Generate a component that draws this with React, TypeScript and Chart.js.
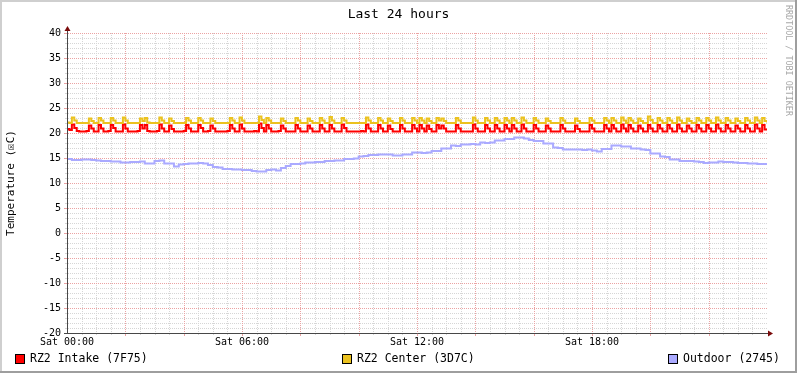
import { useEffect, useRef } from 'react';
import { Chart, registerables } from 'chart.js';

Chart.register(...registerables);

const TITLE = 'Last 24 hours';
const Y_AXIS_TITLE = 'Temperature (☒C)';
const WATERMARK = 'RRDTOOL / TOBI OETIKER';
const X_TICK_HOURS = [0, 6, 12, 18];
const X_TICK_LABELS = ['Sat 00:00', 'Sat 06:00', 'Sat 12:00', 'Sat 18:00'];
const Y_MIN = -20;
const Y_MAX = 40;
const Y_LABEL_STEP = 5;
const Y_MINOR_STEP = 1;
const X_MAJOR_STEP = 2;
const X_MINOR_STEP = 0.5;
const X_SPAN_HOURS = 24;
const SERIES_NAMES = ['RZ2 Intake (7F75)', 'RZ2 Center (3D7C)', 'Outdoor (2745)'];
const SERIES_COLORS = ['#FF0000', '#EBC21F', '#AAAAFF'];
const FAST_STEP_HOURS = 5 / 60;
const SLOW_STEP_HOURS = 10 / 60;

// RZ2 Intake, one value per 5 minutes (12 per row = 1 hour)
const intake = [
  20.8, 20.6, 21.7, 21.0, 20.4, 20.3, 20.3, 20.3, 20.4, 21.5, 20.9, 20.3,
  20.3, 21.6, 20.9, 20.3, 20.3, 20.4, 21.6, 21.0, 20.3, 20.3, 20.3, 21.7,
  20.9, 20.3, 20.3, 20.3, 20.3, 20.4, 21.6, 20.9, 21.6, 20.4, 20.3, 20.3,
  20.3, 20.4, 21.7, 20.9, 20.3, 20.3, 21.5, 20.8, 20.3, 20.3, 20.3, 20.3,
  20.4, 21.6, 20.9, 20.3, 20.3, 20.3, 21.6, 21.0, 20.3, 20.3, 20.4, 21.5,
  20.9, 20.3, 20.3, 20.3, 20.3, 20.3, 20.4, 21.6, 20.9, 20.3, 20.3, 21.7,
  20.9, 20.3, 20.3, 20.3, 20.3, 20.4, 20.3, 21.9, 21.0, 20.3, 21.6, 20.9,
  20.3, 20.3, 20.3, 20.4, 21.5, 20.9, 20.3, 20.3, 20.3, 20.3, 21.6, 20.9,
  20.3, 20.3, 20.3, 21.5, 20.9, 20.3, 20.3, 20.3, 21.6, 20.9, 20.3, 20.3,
  21.6, 20.9, 20.3, 20.3, 20.3, 21.7, 21.0, 20.3, 20.3, 20.3, 20.3, 20.3,
  20.3, 20.4, 20.3, 21.7, 20.9, 20.3, 20.3, 20.3, 21.6, 20.9, 20.3, 20.3,
  21.5, 20.8, 20.3, 20.3, 20.3, 21.6, 20.9, 20.3, 20.3, 20.3, 21.6, 20.9,
  20.3, 21.6, 20.9, 20.3, 21.5, 20.8, 20.3, 20.3, 21.6, 20.9, 21.5, 20.9,
  20.3, 20.3, 20.3, 20.3, 21.6, 20.9, 20.3, 20.3, 20.3, 20.3, 20.3, 21.7,
  20.9, 20.3, 20.3, 20.3, 21.6, 20.9, 20.3, 20.3, 21.6, 20.9, 20.3, 20.3,
  21.6, 20.9, 20.3, 21.6, 20.9, 20.3, 20.3, 21.7, 20.9, 20.3, 20.3, 20.3,
  21.6, 20.9, 20.3, 20.3, 20.3, 21.5, 20.9, 20.3, 20.3, 20.3, 20.3, 21.6,
  20.9, 20.3, 20.3, 20.3, 20.3, 21.5, 20.8, 20.3, 20.3, 20.3, 20.3, 21.6,
  20.9, 20.3, 20.3, 20.3, 20.3, 21.6, 20.9, 20.3, 21.6, 20.9, 20.3, 20.3,
  21.7, 20.9, 20.3, 21.6, 20.9, 20.3, 20.3, 21.5, 20.9, 20.3, 20.3, 21.6,
  20.9, 20.3, 20.3, 21.6, 20.9, 20.3, 20.3, 21.6, 20.9, 20.3, 20.3, 21.7,
  20.9, 20.3, 20.3, 21.5, 20.9, 20.3, 20.3, 21.6, 20.9, 20.3, 20.3, 21.6,
  20.9, 20.3, 20.3, 21.7, 20.9, 20.3, 20.3, 21.6, 20.9, 20.3, 20.3, 21.5,
  20.9, 20.3, 20.3, 21.6, 20.9, 20.3, 20.3, 21.7, 20.9, 20.3, 21.6, 20.7,
  20.6,
];

// RZ2 Center, one value per 5 minutes
const center = [
  22.1, 22.0, 23.1, 22.5, 22.0, 22.0, 22.0, 22.0, 22.0, 22.9, 22.4, 22.0,
  22.0, 23.0, 22.5, 22.0, 22.0, 22.0, 23.0, 22.5, 22.0, 22.0, 22.0, 23.1,
  22.5, 22.0, 22.0, 22.0, 22.0, 22.0, 22.9, 22.4, 23.0, 22.1, 22.0, 22.0,
  22.0, 22.0, 23.1, 22.5, 22.0, 22.0, 22.9, 22.4, 22.0, 22.0, 22.0, 22.0,
  22.0, 23.0, 22.5, 22.0, 22.0, 22.0, 23.0, 22.5, 22.0, 22.0, 22.0, 22.9,
  22.4, 22.0, 22.0, 22.0, 22.0, 22.0, 22.0, 23.0, 22.5, 22.0, 22.0, 23.1,
  22.5, 22.0, 22.0, 22.0, 22.0, 22.0, 22.0, 23.3, 22.6, 22.0, 23.0, 22.5,
  22.0, 22.0, 22.0, 22.0, 22.9, 22.4, 22.0, 22.0, 22.0, 22.0, 23.0, 22.5,
  22.0, 22.0, 22.0, 22.9, 22.4, 22.0, 22.0, 22.0, 23.0, 22.5, 22.0, 22.0,
  23.2, 22.5, 22.0, 22.0, 22.0, 23.0, 22.5, 22.0, 22.0, 22.0, 22.0, 22.0,
  22.0, 22.0, 22.0, 23.1, 22.5, 22.0, 22.0, 22.0, 23.0, 22.5, 22.0, 22.0,
  22.9, 22.4, 22.0, 22.0, 22.0, 23.0, 22.5, 22.0, 22.0, 22.0, 23.0, 22.5,
  22.0, 23.0, 22.5, 22.0, 22.9, 22.4, 22.0, 22.0, 23.0, 22.5, 22.9, 22.4,
  22.0, 22.0, 22.0, 22.0, 23.0, 22.5, 22.0, 22.0, 22.0, 22.0, 22.0, 23.1,
  22.5, 22.0, 22.0, 22.0, 23.0, 22.5, 22.0, 22.0, 23.0, 22.5, 22.0, 22.0,
  23.0, 22.5, 22.0, 23.0, 22.5, 22.0, 22.0, 23.1, 22.5, 22.0, 22.0, 22.0,
  23.0, 22.5, 22.0, 22.0, 22.0, 22.9, 22.4, 22.0, 22.0, 22.0, 22.0, 23.0,
  22.5, 22.0, 22.0, 22.0, 22.0, 22.9, 22.4, 22.0, 22.0, 22.0, 22.0, 23.0,
  22.5, 22.0, 22.0, 22.0, 22.0, 23.0, 22.5, 22.0, 23.0, 22.5, 22.0, 22.0,
  23.1, 22.5, 22.0, 23.0, 22.5, 22.0, 22.0, 22.9, 22.4, 22.0, 22.0, 23.3,
  22.6, 22.0, 22.0, 23.0, 22.5, 22.0, 22.0, 23.0, 22.5, 22.0, 22.0, 23.1,
  22.5, 22.0, 22.0, 22.9, 22.4, 22.0, 22.0, 23.0, 22.5, 22.0, 22.0, 23.0,
  22.5, 22.0, 22.0, 23.1, 22.5, 22.0, 22.0, 23.0, 22.5, 22.0, 22.0, 22.9,
  22.4, 22.0, 22.0, 23.0, 22.5, 22.0, 22.0, 23.1, 22.5, 22.0, 23.0, 22.4,
  22.1,
];

// Outdoor, one value per 10 minutes (12 per row = 2 hours)
const outdoor = [
  14.8, 14.6, 14.6, 14.7, 14.7, 14.6, 14.5, 14.4, 14.4, 14.3, 14.3, 14.1,
  14.1, 14.2, 14.2, 14.3, 13.9, 13.9, 14.4, 14.5, 13.9, 13.9, 13.3, 13.7,
  13.8, 13.9, 13.9, 14.0, 13.9, 13.6, 13.2, 13.1, 12.8, 12.8, 12.7, 12.7,
  12.6, 12.6, 12.4, 12.3, 12.3, 12.6, 12.7, 12.5, 13.0, 13.4, 13.8, 13.8,
  13.9, 14.1, 14.1, 14.2, 14.2, 14.4, 14.4, 14.5, 14.5, 14.8, 14.8, 14.9,
  15.3, 15.4, 15.6, 15.6, 15.7, 15.7, 15.7, 15.5, 15.5, 15.7, 15.7, 16.1,
  16.1, 16.0, 16.1, 16.4, 16.4, 16.9, 16.9, 17.5, 17.4, 17.7, 17.7, 17.8,
  17.7, 18.1, 18.0, 18.1, 18.5, 18.5, 18.8, 18.8, 19.1, 19.1, 18.9, 18.6,
  18.4, 18.4, 17.9, 17.9, 17.1, 17.0, 16.7, 16.7, 16.7, 16.7, 16.6, 16.7,
  16.5, 16.3, 16.8, 16.8, 17.5, 17.5, 17.3, 17.3, 16.9, 16.9, 16.7, 16.6,
  15.9, 15.9, 15.3, 15.2, 14.7, 14.7, 14.4, 14.4, 14.4, 14.3, 14.2, 14.0,
  14.1, 14.1, 14.3, 14.2, 14.2, 14.1, 14.0, 14.0, 13.9, 13.9, 13.8, 13.8,
  13.9,
];

const MONO = '"DejaVu Sans Mono", "Liberation Mono", monospace';
const MINOR_GRID = '#D6D6D6';
const MAJOR_GRID = '#EBA3A3';
const AXIS_COLOR = '#474747';
const ARROW_COLOR = '#7A0A0A';

const toPoints = (vals: number[], step: number) => vals.map((v, i) => ({ x: i * step, y: v }));

const frame = {
  id: 'frame',
  beforeDraw(chart: any) {
    const { ctx, width, height } = chart;
    ctx.save();
    ctx.fillStyle = '#FFFFFF';
    ctx.fillRect(0, 0, width, height);
    ctx.fillStyle = '#CFCFCF';
    ctx.fillRect(0, 0, width, 2);
    ctx.fillRect(0, 0, 2, height);
    ctx.fillStyle = '#9E9E9E';
    ctx.fillRect(width - 2, 0, 2, height);
    ctx.fillRect(0, height - 2, width, 2);
    ctx.restore();
  },
};

const rrdGrid = {
  id: 'rrdGrid',
  beforeDatasetsDraw(chart: any) {
    const { ctx, chartArea: a, scales } = chart;
    const xs = scales.x;
    const ys = scales.y;
    ctx.save();
    ctx.lineWidth = 1;
    ctx.setLineDash([1, 1]);
    const hLine = (v: number, color: string) => {
      const py = Math.round(ys.getPixelForValue(v)) + 0.5;
      ctx.strokeStyle = color;
      ctx.beginPath();
      ctx.moveTo(a.left + 1, py);
      ctx.lineTo(a.right + 1, py);
      ctx.stroke();
    };
    const vLine = (v: number, color: string) => {
      const px = Math.round(xs.getPixelForValue(v)) + 0.5;
      ctx.strokeStyle = color;
      ctx.beginPath();
      ctx.moveTo(px, a.top);
      ctx.lineTo(px, a.bottom);
      ctx.stroke();
    };
    for (let v = Y_MIN + Y_MINOR_STEP; v <= Y_MAX; v += Y_MINOR_STEP) {
      if (v % Y_LABEL_STEP !== 0) hLine(v, MINOR_GRID);
    }
    for (let h = X_MINOR_STEP; h < X_SPAN_HOURS; h += X_MINOR_STEP) {
      if (h % X_MAJOR_STEP !== 0) vLine(h, MINOR_GRID);
    }
    for (let v = Y_MIN + Y_LABEL_STEP; v <= Y_MAX; v += Y_LABEL_STEP) hLine(v, MAJOR_GRID);
    for (let h = X_MAJOR_STEP; h < X_SPAN_HOURS; h += X_MAJOR_STEP) vLine(h, MAJOR_GRID);
    ctx.restore();
  },
  afterDatasetsDraw(chart: any) {
    const { ctx, chartArea: a, scales } = chart;
    const xs = scales.x;
    const ys = scales.y;
    ctx.save();
    ctx.lineWidth = 1;
    for (let v = Y_MIN; v <= Y_MAX; v += Y_MINOR_STEP) {
      const py = Math.round(ys.getPixelForValue(v)) + 0.5;
      const major = v % Y_LABEL_STEP === 0;
      ctx.strokeStyle = major ? MAJOR_GRID : MINOR_GRID;
      ctx.beginPath();
      ctx.moveTo(a.left - (major ? 3 : 2), py);
      ctx.lineTo(a.left, py);
      ctx.stroke();
    }
    for (let h = X_MINOR_STEP; h < X_SPAN_HOURS; h += X_MINOR_STEP) {
      const px = Math.round(xs.getPixelForValue(h)) + 0.5;
      const major = h % X_MAJOR_STEP === 0;
      ctx.strokeStyle = major ? MAJOR_GRID : MINOR_GRID;
      ctx.beginPath();
      ctx.moveTo(px, a.bottom);
      ctx.lineTo(px, a.bottom + (major ? 3 : 2));
      ctx.stroke();
    }
    const ax = Math.round(a.left) + 0.5;
    const ay = Math.round(a.bottom) + 0.5;
    ctx.strokeStyle = AXIS_COLOR;
    ctx.beginPath();
    ctx.moveTo(ax, ay);
    ctx.lineTo(ax, a.top - 4);
    ctx.moveTo(a.left - 3, ay);
    ctx.lineTo(a.right + 4, ay);
    ctx.stroke();
    ctx.fillStyle = ARROW_COLOR;
    ctx.beginPath();
    ctx.moveTo(ax, a.top - 7);
    ctx.lineTo(ax - 3, a.top - 2);
    ctx.lineTo(ax + 3, a.top - 2);
    ctx.closePath();
    ctx.fill();
    ctx.beginPath();
    ctx.moveTo(a.right + 6, ay);
    ctx.lineTo(a.right + 1, ay - 3);
    ctx.lineTo(a.right + 1, ay + 3);
    ctx.closePath();
    ctx.fill();
    ctx.restore();
  },
};

const texts = {
  id: 'texts',
  afterDraw(chart: any) {
    const { ctx, chartArea: a, width } = chart;
    ctx.save();
    ctx.fillStyle = '#000';
    ctx.font = `13px ${MONO}`;
    ctx.textAlign = 'center';
    ctx.textBaseline = 'alphabetic';
    ctx.fillText(TITLE, width / 2, 18);
    ctx.save();
    ctx.translate(14, (a.top + a.bottom) / 2);
    ctx.rotate(-Math.PI / 2);
    ctx.font = `11px ${MONO}`;
    ctx.textAlign = 'center';
    ctx.fillText(Y_AXIS_TITLE, 0, 0);
    ctx.restore();
    ctx.save();
    ctx.translate(786, 5);
    ctx.rotate(Math.PI / 2);
    ctx.font = `8.4px ${MONO}`;
    ctx.fillStyle = '#A8A8A8';
    ctx.textAlign = 'left';
    ctx.textBaseline = 'alphabetic';
    ctx.fillText(WATERMARK, 0, 0);
    ctx.restore();
    const legendX = [15, 342, 668];
    ctx.font = `11.5px ${MONO}`;
    ctx.textAlign = 'left';
    ctx.textBaseline = 'middle';
    SERIES_NAMES.forEach((name, i) => {
      const x = legendX[i];
      ctx.fillStyle = SERIES_COLORS[i];
      ctx.fillRect(x, 354, 9, 9);
      ctx.strokeStyle = '#000';
      ctx.lineWidth = 1;
      ctx.strokeRect(x + 0.5, 354.5, 9, 9);
      ctx.fillStyle = '#000';
      ctx.fillText(name, x + 15, 359.5);
    });
    ctx.restore();
  },
};

export default function App() {
  const ref = useRef<HTMLCanvasElement>(null);
  useEffect(() => {
    document.body.style.margin = '0';
    const canvas = ref.current;
    if (!canvas) return;
    const chart = new Chart(canvas, {
      type: 'line',
      data: {
        datasets: [
          { label: SERIES_NAMES[2], data: toPoints(outdoor, SLOW_STEP_HOURS), borderColor: SERIES_COLORS[2], borderWidth: 2, pointRadius: 0, stepped: 'before', fill: false },
          { label: SERIES_NAMES[1], data: toPoints(center, FAST_STEP_HOURS), borderColor: SERIES_COLORS[1], borderWidth: 2, pointRadius: 0, stepped: 'before', fill: false },
          { label: SERIES_NAMES[0], data: toPoints(intake, FAST_STEP_HOURS), borderColor: SERIES_COLORS[0], borderWidth: 2, pointRadius: 0, stepped: 'before', fill: false },
        ] as any,
      },
      options: {
        animation: false,
        responsive: false,
        maintainAspectRatio: false,
        devicePixelRatio: 1,
        layout: { padding: { left: 0, top: 33, right: 30, bottom: 0 } },
        plugins: {
          legend: { display: false },
          title: { display: false },
          tooltip: { enabled: false },
        },
        scales: {
          x: {
            type: 'linear',
            min: 0,
            max: X_SPAN_HOURS,
            grid: { display: false, drawTicks: false },
            border: { display: false },
            afterBuildTicks: (s: any) => {
              s.ticks = X_TICK_HOURS.map((v) => ({ value: v }));
            },
            afterFit: (s: any) => {
              s.height = 40;
            },
            ticks: {
              autoSkip: false,
              maxRotation: 0,
              padding: 3,
              color: '#000',
              font: { family: MONO, size: 10 },
              callback: (v: any) => X_TICK_LABELS[X_TICK_HOURS.indexOf(Number(v))] ?? '',
            },
          },
          y: {
            type: 'linear',
            min: Y_MIN,
            max: Y_MAX,
            grid: { display: false, drawTicks: false },
            border: { display: false },
            afterBuildTicks: (s: any) => {
              const t = [];
              for (let v = Y_MIN; v <= Y_MAX; v += Y_LABEL_STEP) t.push({ value: v });
              s.ticks = t;
            },
            afterFit: (s: any) => {
              s.width = 67;
            },
            ticks: {
              padding: 6,
              color: '#000',
              font: { family: MONO, size: 10 },
            },
          },
        },
      },
      plugins: [frame, rrdGrid, texts],
    });
    return () => chart.destroy();
  }, []);
  return (
    <div style={{ position: 'absolute', left: 0, top: 0, width: 797, height: 373 }}>
      <canvas ref={ref} width={797} height={373} style={{ width: 797, height: 373, display: 'block' }} />
    </div>
  );
}
